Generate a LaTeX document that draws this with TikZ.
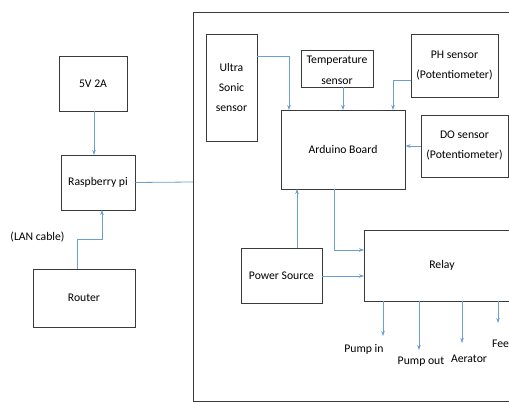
\documentclass[tikz,border=0pt]{standalone}
\usepackage{fontspec}
\setmainfont{Carlito}
\usetikzlibrary{arrows.meta}
\definecolor{arrblue}{HTML}{6A9FCF}
\definecolor{boxline}{HTML}{3A3A3A}
\tikzset{
  blk/.style={draw=boxline, line width=0.9pt, rectangle, inner sep=0pt, align=center, font=\fontsize{11.7}{20}\selectfont},
  arr/.style={draw=arrblue, line width=0.8pt, -{Stealth[length=5pt,width=3.5pt]}},
  plainln/.style={draw=arrblue, line width=0.8pt},
  lbl/.style={font=\fontsize{11.7}{14}\selectfont, inner sep=0pt}
}
\begin{document}
\begin{tikzpicture}[x=1pt,y=-1pt]
\useasboundingbox (0,0) rectangle (509,403);
\clip (0,0) rectangle (509,403);
\fill[white] (0,0) rectangle (509,403);
% frame
\draw[boxline, line width=0.9pt] (193,12) rectangle (540,401);
\coordinate (fl) at (193,182);
% boxes
\node[blk, minimum width=68pt, minimum height=55pt] (v5) at (93,83.5) {5V 2A};
\node[blk, minimum width=74pt, minimum height=55pt] (rpi) at (98,182.5) {Raspberry pi};
\node[blk, minimum width=102pt, minimum height=58pt] (router) at (84,298) {Router};
\node[blk, minimum width=51pt, minimum height=107pt] (us) at (231.5,87.5) {Ultra\\Sonic\\sensor};
\node[blk, minimum width=72pt, minimum height=37pt] (temp) at (337,68.5) {};
\node[lbl, align=center, font=\fontsize{11.7}{21}\selectfont] (templ) at (337,70.5) {Temperature\\sensor};
\node[blk, minimum width=87pt, minimum height=63pt] (ph) at (454.5,65.5) {PH sensor\\(Potentiometer)};
\node[blk, minimum width=124pt, minimum height=79pt] (ard) at (343,149.5) {Arduino Board};
\node[blk, minimum width=87pt, minimum height=62pt] (do) at (464.5,146) {DO sensor\\(Potentiometer)};
\node[blk, minimum width=81pt, minimum height=55pt] (pow) at (281.5,275.5) {Power Source};
\node[blk, minimum width=156pt, minimum height=71pt] (relay) at (442,265.5) {Relay};
% labels
\node[lbl] (lan) at (37.5,237) {(LAN cable)};
\node[lbl] (pin) at (364,349) {Pump in};
\node[lbl] (pout) at (421,362) {Pump out};
\node[lbl] (aer) at (469,359) {Aerator};
\node[lbl, anchor=west] (feed) at (492,343) {Feeder};
% connectors left
\draw[arr] (94,111) -- (94,155);
\draw[plainln] (rpi.east) -- (fl);
\draw[arr] (77,269) -- (77,239) -- (102,239) -- (102,210);
% sensors to arduino
\draw[arr] (us.east |- 0,56) -- (289,56) -- (289,110);
\draw[arr] (temp.south -| 343,0) -- (343,110);
\draw[arr] (ph.west |- 0,80) -- (393,80) -- (393,110);
\draw[arr] (do.west |- 0,146) -- (ard.east |- 0,146);
% power and relay
\draw[arr] (297,248) -- (297,189);
\draw[arr] (334,189) -- (334,250) -- (364,250);
\draw[arr] (322,276) -- (364,276);
% relay outputs
\coordinate (o1) at (383,336);
\coordinate (o2) at (419,350);
\coordinate (o3) at (462,343);
\coordinate (o4) at (498,323);
\draw[arr] (383,301) -- (o1);
\draw[arr] (419,301) -- (o2);
\draw[arr] (462,301) -- (o3);
\draw[arr] (498,301) -- (o4);
\end{tikzpicture}
\end{document}
